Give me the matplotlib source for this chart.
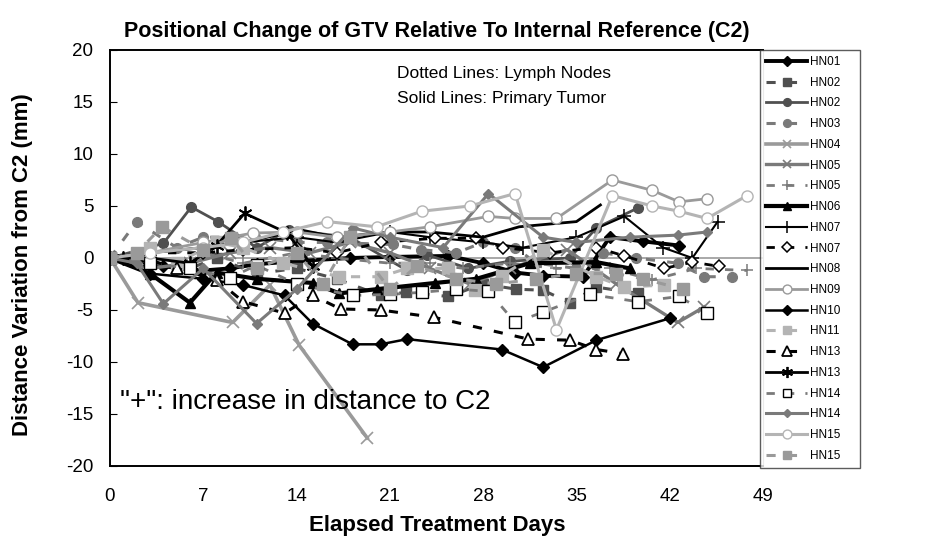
import numpy as np
import matplotlib.pyplot as plt

plt.rcParams['font.family'] = ['Liberation Sans', 'DejaVu Sans']
plt.rcParams['axes.unicode_minus'] = False

# ---- data (elapsed day, distance variation in mm) ----
hn01_d = [0, 2, 4, 7, 9, 11, 14, 18, 21, 25.4, 28, 30.4, 32.5, 35.5, 37.5, 40, 42.7]
hn01_v = [0, -0.3, -0.8, -1.2, -1.0, -0.6, -0.3, 0.0, 0.1, 0.2, -0.5, -1.4, -1.7, -1.8, 2.0, 1.6, 1.2]

hn02n_d = [0, 3, 6, 8, 11, 14, 17, 20.3, 22.2, 25.4, 28, 30.5, 32.5, 34.5, 36.5, 39.6]
hn02n_v = [0, -0.5, -1.0, 0.0, -1.5, -1.0, -2.0, -3.6, -3.3, -3.7, -2.5, -3.0, -3.1, -4.3, -2.8, -3.4]

hn02_d = [0, 4, 6.1, 8.1, 11, 13.4, 18, 22.3, 23.8, 26.9, 30, 34.5, 36.5, 39.6]
hn02_v = [0, 1.4, 4.9, 3.5, 1.0, 2.7, 2.0, -1.2, 0.3, -1.0, -0.3, 0.0, 2.9, 4.8]

hn03_d = [0, 2, 5, 7, 10.9, 14, 16.3, 21.2, 23.3, 26, 28, 30.4, 32, 35, 37, 39.5, 42.6, 44.6, 46.7]
hn03_v = [0, 3.5, 1.0, 2.0, 2.0, 1.5, 1.5, 1.3, 0.8, 0.5, 1.5, 1.0, -0.5, -1.0, 0.5, 0.0, -0.5, -1.8, -1.8]

hn04_d = [0, 2.1, 9.2, 12, 14.2, 19.3]
hn04_v = [0, -4.3, -6.2, -2.6, -8.4, -17.3]

hn05_d = [0, 3, 6, 9, 12, 15, 18, 21, 24, 27, 30, 34.3, 38, 42.6, 44.6]
hn05_v = [0, -1.0, -0.5, 0.5, 1.0, 0.5, 1.5, 0.5, -1.0, -2.5, -1.0, 0.8, -2.5, -6.2, -4.7]

hn05n_d = [0, 3, 7, 10, 14, 17, 21, 24, 26.5, 30, 33.5, 37.5, 40.7, 44, 47.8]
hn05n_v = [0, 0.5, 0.5, -0.5, 0.5, 0.0, -0.5, -0.5, -1.0, -0.5, -1.0, -1.0, -2.1, -1.0, -1.2]

hn06_d = [0, 3, 6, 8, 11, 15.2, 17.2, 20, 24.4, 27.5, 31.5, 36.5, 39]
hn06_v = [0, -1.5, -4.3, -1.4, -2.0, -2.4, -3.4, -3.0, -2.4, -2.0, -0.5, -0.4, -1.0]

hn07_d = [0, 3, 7, 10, 14, 17, 21, 24, 28, 31, 35, 38.6, 41.5, 43.7, 45.6]
hn07_v = [0, 0.5, 1.0, 1.5, 2.0, 1.5, 2.5, 2.0, 1.5, 1.0, 2.0, 4.0, 1.0, 0.0, 3.5]

hn07n_d = [0, 3, 7, 10, 14, 17, 20.3, 24.4, 27.5, 29.5, 33, 36.5, 38.6, 41.6, 43.7, 45.7]
hn07n_v = [0, 0.5, 0.5, 0.8, 1.0, 0.5, 1.5, 1.9, 1.9, 1.0, 0.5, 1.0, 0.2, -1.0, -0.4, -0.8]

hn08_d = [0, 3, 7, 10, 14.3, 17, 21, 24, 28, 30.7, 35, 36.8]
hn08_v = [0, 0.5, 1.0, 1.5, 2.7, 2.0, 2.5, 2.5, 2.0, 3.0, 3.5, 5.1]

hn09_d = [0, 3, 7, 10.7, 14, 17, 21, 24, 28.4, 30.4, 33.5, 37.7, 40.7, 42.7, 44.8]
hn09_v = [0, 0.5, 1.5, 2.4, 2.5, 2.0, 2.5, 3.0, 4.0, 3.8, 3.8, 7.5, 6.5, 5.4, 5.7]

hn10_d = [0, 3, 7, 10, 13.1, 15.2, 18.2, 20.3, 22.3, 29.4, 32.5, 36.5, 42]
hn10_v = [0, -1.5, -2.0, -2.6, -3.6, -6.3, -8.3, -8.3, -7.8, -8.8, -10.5, -7.9, -5.8]

hn11_d = [0, 3, 5, 8, 10, 13, 17.2, 20.3, 22.3, 25.4, 27.4, 29.4, 32.5, 36.5, 38.6, 41.6]
hn11_v = [0, 1.0, -0.5, 1.5, 1.0, -0.5, -1.8, -1.8, -1.0, -1.0, -3.1, -1.7, 0.8, -1.8, -2.8, -2.6]

hn13n_d = [0, 3, 5, 8, 10, 13.1, 15.2, 17.3, 20.3, 24.3, 31.4, 34.5, 36.5, 38.5]
hn13n_v = [0, -0.2, -1.0, -2.1, -4.2, -5.3, -3.6, -4.9, -5.0, -5.7, -7.8, -7.9, -8.8, -9.2]

hn13_d = [0, 1, 3, 6, 8, 10.1, 13.3, 15.2]
hn13_v = [0, 0, 0, -0.5, 1.2, 4.3, 2.4, -0.8]

hn14n_d = [0, 3, 6, 9, 11, 14, 18.2, 21, 23.4, 26, 28.4, 30.4, 32.5, 36, 39.6, 42.7, 44.8]
hn14n_v = [0, -0.5, -1.0, -1.9, -0.7, -2.5, -3.6, -3.5, -3.3, -3.0, -3.2, -6.2, -5.2, -3.5, -4.2, -3.7, -5.3]

hn14_d = [0, 2, 4, 7, 11, 14, 18.2, 21, 25, 28.4, 32.5, 35, 39, 42.6, 44.8]
hn14_v = [0, -0.5, -4.4, -1.0, -6.3, -3.0, 2.9, 2.0, 1.0, 6.2, 2.0, 1.5, 2.0, 2.2, 2.5]

hn15_d = [0, 3, 7, 10, 13, 16.3, 20, 23.4, 27, 30.4, 33.5, 37.7, 40.7, 42.7, 44.8, 47.8]
hn15_v = [0, 0.5, 1.0, 1.5, 2.5, 3.5, 3.0, 4.5, 5.0, 6.2, -6.9, 6.0, 5.0, 4.5, 3.8, 6.0]

hn15n_d = [0, 2, 3.9, 7, 9.1, 11, 14, 16, 18, 21, 23, 26, 29, 32, 35, 38, 40, 43]
hn15n_v = [0, 0.5, 3.0, 0.8, 1.9, -1.0, 0.5, -2.5, 2.0, -3.0, -0.8, -2.0, -2.5, -2.0, -1.5, -1.5, -2.0, -3.0]

BLK, DRK, MID, LGT, VLT = '#000000', '#505050', '#7a7a7a', '#9a9a9a', '#b4b4b4'
dash = (0, (3, 4))

series = [
    ('HN01', hn01_d, hn01_v, dict(color=BLK, lw=2.8, marker='D', ms=6, mfc=BLK)),
    ('HN02', hn02n_d, hn02n_v, dict(color=DRK, lw=2.2, ls=dash, marker='s', ms=7, mfc=DRK)),
    ('HN02', hn02_d, hn02_v, dict(color=DRK, lw=2.0, marker='o', ms=7, mfc=DRK)),
    ('HN03', hn03_d, hn03_v, dict(color=MID, lw=2.2, ls=dash, marker='o', ms=7, mfc=MID)),
    ('HN04', hn04_d, hn04_v, dict(color=LGT, lw=2.6, marker='x', ms=8, mew=1.2)),
    ('HN05', hn05_d, hn05_v, dict(color=MID, lw=2.4, marker='x', ms=8, mew=1.2)),
    ('HN05', hn05n_d, hn05n_v, dict(color=MID, lw=2.0, ls=dash, marker='+', ms=9, mew=1.1)),
    ('HN06', hn06_d, hn06_v, dict(color=BLK, lw=3.0, marker='^', ms=7, mfc=BLK)),
    ('HN07', hn07_d, hn07_v, dict(color=BLK, lw=1.5, marker='+', ms=10, mew=1.1)),
    ('HN07', hn07n_d, hn07n_v, dict(color=BLK, lw=2.0, ls=dash, marker='D', ms=6, mfc='white', mew=1.1)),
    ('HN08', hn08_d, hn08_v, dict(color=BLK, lw=2.0)),
    ('HN09', hn09_d, hn09_v, dict(color=LGT, lw=2.0, marker='o', ms=8, mfc='white', mew=1.0)),
    ('HN10', hn10_d, hn10_v, dict(color=BLK, lw=1.8, marker='D', ms=6, mfc=BLK)),
    ('HN11', hn11_d, hn11_v, dict(color=VLT, lw=2.2, ls=dash, marker='s', ms=8, mfc=VLT)),
    ('HN13', hn13n_d, hn13n_v, dict(color=BLK, lw=2.2, ls=dash, marker='^', ms=9, mfc='white', mew=1.3)),
    ('HN13', hn13_d, hn13_v, dict(color=BLK, lw=2.0, marker=(6, 2, 0), ms=10, mew=1.3)),
    ('HN14', hn14n_d, hn14n_v, dict(color=MID, lw=2.0, ls=dash, marker='s', ms=8, mfc='white', mec=BLK, mew=1.0)),
    ('HN14', hn14_d, hn14_v, dict(color=MID, lw=2.2, marker='D', ms=5, mfc=MID)),
    ('HN15', hn15_d, hn15_v, dict(color=VLT, lw=2.2, marker='o', ms=8, mfc='white', mew=1.0)),
    ('HN15', hn15n_d, hn15n_v, dict(color=LGT, lw=2.2, ls=dash, marker='s', ms=8, mfc=LGT)),
]

fig = plt.figure(figsize=(9.37, 5.42), dpi=100)
ax = fig.add_axes([110 / 937, 1 - 466 / 542, 653 / 937, 416 / 542])

ax.axhline(0, color='#999999', lw=1.2, zorder=0)

handles = []
for name, d, v, st in series:
    ln, = ax.plot(d, v, label=name, **st)
    handles.append(ln)

ax.set_xlim(0, 49)
ax.set_ylim(-20, 20)
ax.set_xticks(np.arange(0, 50, 7))
ax.set_yticks(np.arange(-20, 21, 5))
ax.tick_params(axis='x', length=0, labelsize=13.5, pad=16)
ax.tick_params(axis='y', direction='in', length=5, labelsize=13.5, pad=12)
for s in ['left', 'bottom', 'top']:
    ax.spines[s].set_linewidth(1.4)
ax.spines['right'].set_color('#999999')

ax.set_title('Positional Change of GTV Relative To Internal Reference (C2)',
             fontsize=15.5, fontweight='bold', pad=9)
ax.set_xlabel('Elapsed Treatment Days', fontsize=16, fontweight='bold')
ax.xaxis.set_label_coords((437 - 110) / 653, -(515 - 466) / 416)
ax.set_ylabel('Distance Variation from C2 (mm)', fontsize=16, fontweight='bold')
ax.yaxis.set_label_coords(-(110 - 33) / 653, (466 - 265) / 416)

ax.text(21.5, 17.7, 'Dotted Lines: Lymph Nodes', fontsize=12.5, va='center')
ax.text(21.5, 15.3, 'Solid Lines: Primary Tumor', fontsize=12.5, va='center')
ax.text(0.75, -13.8, '"+": increase in distance to C2', fontsize=20, va='center')

leg = fig.legend(handles=handles, loc='upper left',
                 bbox_to_anchor=(760 / 937, 1 - 466 / 542, 100 / 937, 416 / 542),
                 mode='expand', fontsize=8.5, handlelength=3.5, labelspacing=0.74,
                 borderpad=0.5, handletextpad=0.2, frameon=True, fancybox=False,
                 borderaxespad=0, markerscale=0.8)
leg.get_frame().set_edgecolor('#333333')
leg.get_frame().set_linewidth(1.0)

fig.savefig('out.png', dpi=100)
